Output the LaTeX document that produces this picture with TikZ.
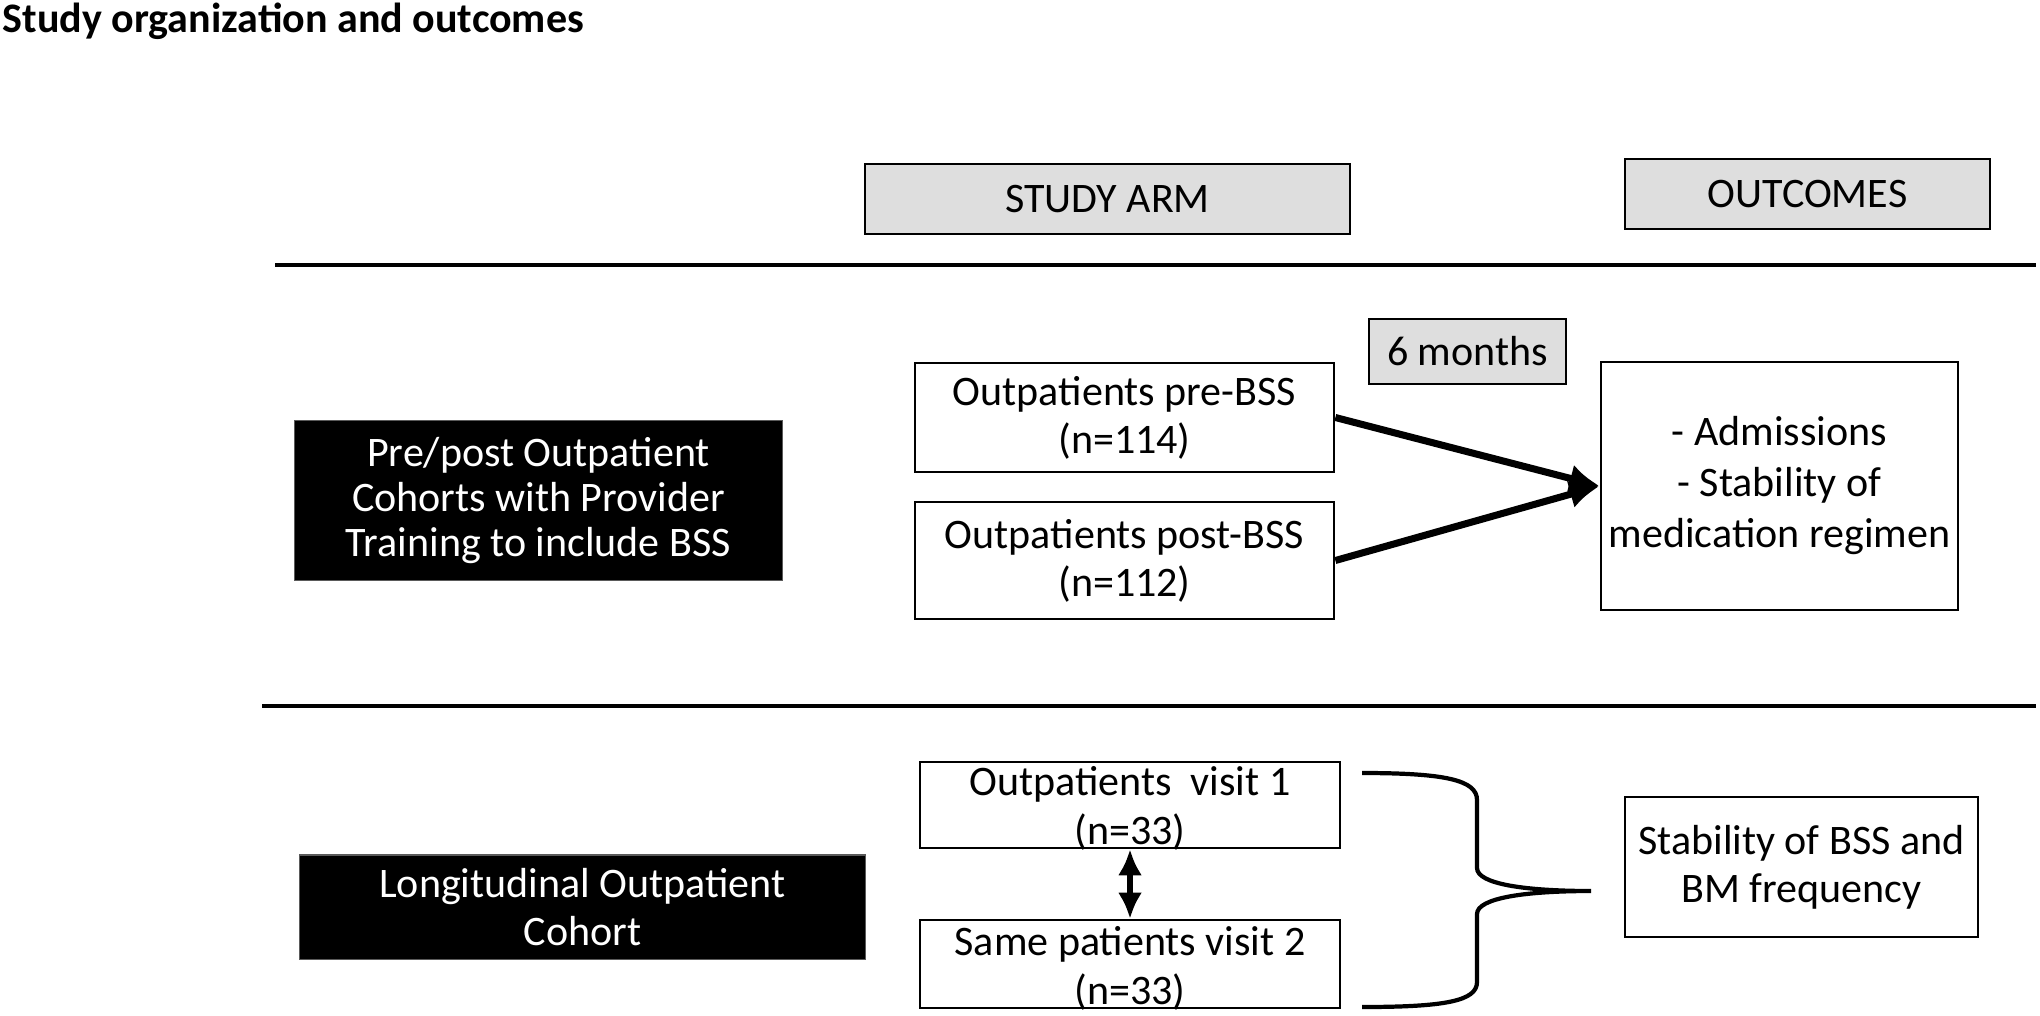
\documentclass[tikz,border=0pt]{standalone}
\usepackage{fontspec}
\setmainfont{Carlito}
\usetikzlibrary{arrows.meta, positioning}
\definecolor{boxgray}{RGB}{222,222,222}
\definecolor{edgegray}{RGB}{90,90,90}

\begin{document}
\begin{tikzpicture}[x=0.01cm, y=-0.01cm,
    every node/.style={font=\fontsize{11.95pt}{13.7pt}\selectfont, inner sep=0pt},
    headbox/.style={draw, line width=0.7pt, fill=boxgray, minimum height=0.7cm},
    armbox/.style={draw, line width=0.7pt, fill=white, align=center},
    cohortbox/.style={draw=edgegray, line width=0.3pt, fill=black, text=white, align=center},
    rule/.style={line width=1.2pt},
    flow/.style={line width=2pt, -{Latex[length=0.3cm,width=0.28cm]}}]
    \useasboundingbox (0,0) rectangle (2040,1015);

    \node[anchor=base west, font=\fontsize{11.95pt}{13.7pt}\selectfont\bfseries] (title) at (2,32) {Study organization and outcomes};

    % column headers
    \node[headbox, minimum width=4.85cm] (arm) at (1107.5,199) {STUDY ARM};
    \node[headbox, minimum width=3.65cm] (outc) at (1807.5,194) {OUTCOMES};

    \coordinate (r1a) at (275,265);
    \coordinate (r1b) at (2036,265);
    \coordinate (r2a) at (262,706);
    \coordinate (r2b) at (2036,706);
    \draw[rule] (r1a) -- (r1b);
    \draw[rule] (r2a) -- (r2b);

    % pre/post arm
    \node[cohortbox, minimum width=4.87cm, minimum height=1.59cm,
        font=\fontsize{11.95pt}{12.8pt}\selectfont] (coh1) at (538.5,500.5)
        {Pre/post Outpatient\\Cohorts with Provider\\Training to include BSS};
    \node[headbox, minimum width=1.97cm, minimum height=0.65cm] (six) at (1467.5,351.5) {6 months};
    \node[armbox, minimum width=4.19cm, minimum height=1.09cm] (pre) at (1124.5,417.5)
        {Outpatients pre-BSS\\(n=114)};
    \node[armbox, minimum width=4.19cm, minimum height=1.17cm] (post) at (1124.5,560.5)
        {Outpatients post-BSS\\(n=112)};
    \node[armbox, minimum width=3.57cm, minimum height=2.48cm,
        font=\fontsize{11.95pt}{14.5pt}\selectfont] (adm) at (1779.5,486)
        {- Admissions\\- Stability of\\medication regimen};
    \draw[flow] (pre.east) -- (adm.west);
    \draw[flow] (post.east) -- (adm.west);

    % longitudinal arm
    \node[cohortbox, minimum width=5.65cm, minimum height=1.04cm] (coh2) at (582.5,907)
        {Longitudinal Outpatient\\Cohort};
    \node[armbox, minimum width=4.2cm, minimum height=0.86cm] (v1) at (1130,805) {};
    \node[armbox, minimum width=4.2cm, minimum height=0.88cm] (v2) at (1130,964) {};
    \node[align=center, font=\fontsize{11.95pt}{13.9pt}\selectfont] (v1t) at (1130,808)
        {Outpatients\ \ visit 1\\(n=33)};
    \node[align=center, font=\fontsize{11.95pt}{13.9pt}\selectfont] (v2t) at (1130,968)
        {Same patients visit 2\\(n=33)};
    \draw[line width=1.8pt, {Latex[length=0.26cm,width=0.24cm]}-{Latex[length=0.26cm,width=0.24cm]}]
        (v1.south) -- (v2.north);
    \draw[line width=1.2pt] (1362,773) .. controls (1445,773) and (1477,780) .. (1477,800)
        -- (1477,868) .. controls (1477,884) and (1525,891) .. (1591,891)
        .. controls (1525,891) and (1477,898) .. (1477,914)
        -- (1477,982) .. controls (1477,1001) and (1445,1007) .. (1362,1007);
    \node[armbox, minimum width=3.53cm, minimum height=1.4cm] (stab) at (1801.5,867)
        {Stability of BSS and\\BM frequency};

\end{tikzpicture}
\end{document}
